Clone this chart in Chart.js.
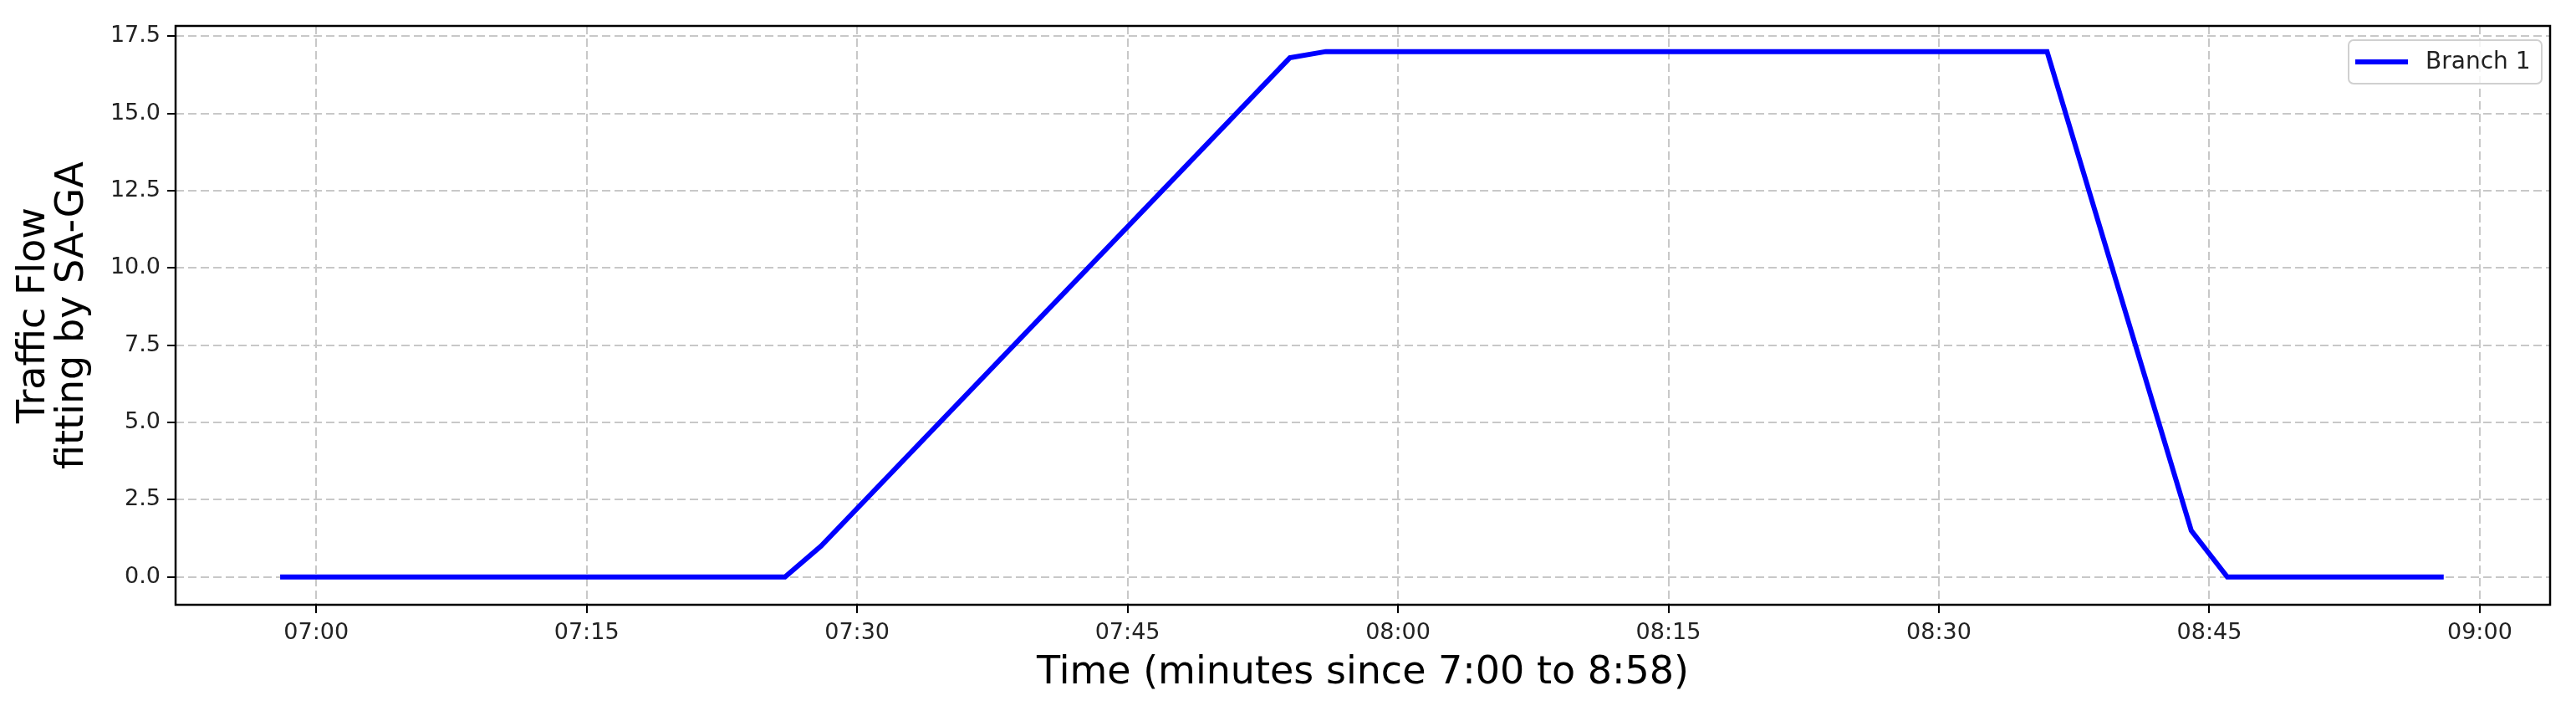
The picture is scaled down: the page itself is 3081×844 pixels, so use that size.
<!DOCTYPE html>
<html>
<head>
<meta charset="utf-8">
<script src="https://cdn.jsdelivr.net/npm/chart.js@4.4.1/dist/chart.umd.min.js"></script>
<style>
  html, body { margin: 0; padding: 0; background: #fff; }
  #wrap { width: 3081px; height: 844px; }
</style>
</head>
<body>
<div id="wrap"><canvas id="grafico"></canvas></div>
<script>
// minutos desde 7:00 (vertices da curva)
const minutos = [-2, 26, 28, 54, 56, 96, 104, 106, 118];
const fluxo = [0, 0, 1.0, 16.8, 17.0, 17.0, 1.5, 0, 0];
const ticksX = [0, 15, 30, 45, 60, 75, 90, 105, 120];
const ticksY = [0, 2.5, 5, 7.5, 10, 12.5, 15, 17.5];
const nomeSerie = "Branch 1";

function formataHora(m) {
  let h = 7 + Math.floor(m / 60);
  let mm = m - (h - 7) * 60;
  return String(h).padStart(2, "0") + ":" + String(mm).padStart(2, "0");
}

// moldura em volta da area do grafico
const moldura = {
  id: "moldura",
  afterDatasetsDraw(chart) {
    const a = chart.chartArea;
    const ctx = chart.ctx;
    ctx.save();
    ctx.strokeStyle = "#000";
    ctx.lineWidth = 2.5;
    ctx.strokeRect(a.left, a.top, a.right - a.left, a.bottom - a.top);
    ctx.restore();
  }
};

// legenda desenhada dentro da area, canto superior direito
const legendaBox = {
  id: "legendaBox",
  afterDraw(chart) {
    const a = chart.chartArea;
    const ctx = chart.ctx;
    const ds = chart.data.datasets[0];
    const w = 231, h = 52;
    const x = a.right - 10 - w, y = a.top + 17;
    ctx.save();
    ctx.fillStyle = "rgba(255,255,255,0.8)";
    ctx.strokeStyle = "#d0d0d0";
    ctx.lineWidth = 2;
    ctx.beginPath();
    ctx.roundRect(x, y, w, h, 6);
    ctx.fill();
    ctx.stroke();
    ctx.strokeStyle = ds.borderColor;
    ctx.lineWidth = 6;
    ctx.beginPath();
    ctx.moveTo(x + 8, y + h / 2);
    ctx.lineTo(x + 71, y + h / 2);
    ctx.stroke();
    ctx.fillStyle = "#222";
    ctx.font = "28px 'DejaVu Sans'";
    ctx.textBaseline = "middle";
    ctx.fillText(ds.label, x + 92, y + h / 2 + 1);
    ctx.restore();
  }
};

const corGrade = "#c8c8c8";

new Chart(document.getElementById("grafico"), {
  type: "line",
  data: {
    datasets: [
      {
        label: nomeSerie,
        data: minutos.map((m, i) => ({ x: m, y: fluxo[i] })),
        borderColor: "#0000ff",
        backgroundColor: "#0000ff",
        borderWidth: 6,
        pointRadius: 0,
        tension: 0,
        fill: false,
      },
    ],
  },
  options: {
    responsive: true,
    maintainAspectRatio: false,
    animation: false,
    layout: { padding: { top: 31, right: 31, left: 10, bottom: 0 } },
    plugins: {
      legend: { display: false },
      tooltip: { enabled: false },
    },
    scales: {
      x: {
        type: "linear",
        min: -7.8,
        max: 63.9 + 60,
        afterBuildTicks: (s) => { s.ticks = ticksX.map((v) => ({ value: v })); },
        afterFit: (s) => { s.height = 121; },
        ticks: {
          callback: (v) => formataHora(v),
          color: "#222",
          font: { family: "DejaVu Sans", size: 27 },
          padding: 8,
          maxRotation: 0,
        },
        grid: {
          color: corGrade,
          lineWidth: 2,
          tickColor: "#000",
          tickLength: 10,
          tickWidth: 2,
          tickBorderDash: [],
        },
        border: { display: false, dash: [10, 5] },
        title: {
          display: true,
          text: "Time (minutes since 7:00 to 8:58)",
          color: "#000",
          font: { family: "DejaVu Sans", size: 46 },
          padding: { top: 4, bottom: 11 },
        },
      },
      y: {
        type: "linear",
        min: -0.9,
        max: 17.83,
        afterBuildTicks: (s) => { s.ticks = ticksY.map((v) => ({ value: v })); },
        afterFit: (s) => { s.width = 200; },
        ticks: {
          callback: (v) => v.toFixed(1),
          color: "#222",
          font: { family: "DejaVu Sans", size: 27 },
          padding: 8,
        },
        grid: {
          color: corGrade,
          lineWidth: 2,
          tickColor: "#000",
          tickLength: 10,
          tickWidth: 2,
          tickBorderDash: [],
        },
        border: { display: false, dash: [10, 5] },
        title: {
          display: true,
          text: ["Traffic Flow", "fitting by SA-GA"],
          color: "#000",
          font: { family: "DejaVu Sans", size: 46, lineHeight: 1.0 },
          padding: { top: 8, bottom: 0 },
        },
      },
    },
  },
  plugins: [moldura, legendaBox],
});
</script>
</body>
</html>
